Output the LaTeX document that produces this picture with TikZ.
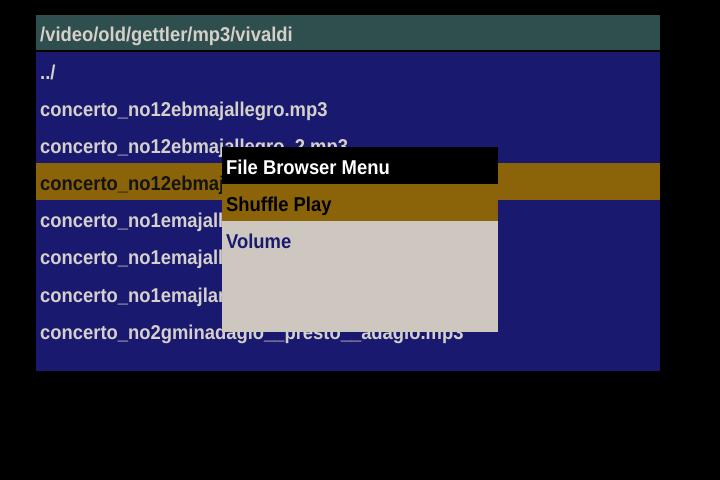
\documentclass[tikz,border=0pt]{standalone}
\usepackage{fontspec}
\newfontfamily\uifont[FakeStretch=0.92]{Liberation Sans Bold}
\definecolor{bgblack}{RGB}{0,0,0}
\definecolor{hdrgreen}{RGB}{47,79,79}
\definecolor{listblue}{RGB}{25,25,112}
\definecolor{selbrown}{RGB}{139,99,8}
\definecolor{popgray}{RGB}{205,199,192}
\definecolor{txtgray}{RGB}{214,208,202}
\definecolor{seltxt}{RGB}{20,20,20}
\tikzset{
  x=1bp, y=-1bp,
  uitext/.style={anchor=base west, inner sep=0pt, font=\uifont\fontsize{20bp}{24bp}\selectfont},
  listtext/.style={uitext, text=txtgray},
}
\begin{document}
\begin{tikzpicture}
\useasboundingbox (0,0) rectangle (720,480);
\fill[bgblack] (0,0) rectangle (720,480);
% header
\fill[hdrgreen] (36,15) rectangle (660,50);
\node[listtext] (hdr) at (40,41.5) {/video/old/gettler/mp3/vivaldi};
% list panel
\fill[listblue] (36,52) rectangle (660,371);
\fill[selbrown] (36,163) rectangle (660,200);
\node[listtext] (r0) at (40,80)  {../};
\node[listtext] (r1) at (40,117) {concerto\_no12ebmajallegro.mp3};
\node[listtext] (r2) at (40,154) {concerto\_no12ebmajallegro\_2.mp3};
\begin{scope}
\clip (36,160) rectangle (222,320);
\node[uitext, text=seltxt] (r3) at (40,191) {concerto\_no12ebmaj};
\node[listtext] (r4) at (40,228) {concerto\_no1emajall};
\node[listtext] (r5) at (40,265) {concerto\_no1emajall};
\node[listtext] (r6) at (40,302) {concerto\_no1emajlar};
\end{scope}
\node[listtext] (r7) at (40,339) {concerto\_no2gminadagio\_\_presto\_\_adagio.mp3};
% popup menu
\fill[popgray] (222,147) rectangle (498,332);
\fill[black] (222,147) rectangle (498,184);
\fill[selbrown] (222,184) rectangle (498,221);
\node[uitext, text=white] (mtitle) at (226,174.5) {File Browser Menu};
\node[uitext, text=black] (mshuffle) at (226,211.5) {Shuffle Play};
\node[uitext, text=listblue] (mvolume) at (226,248.5) {Volume};
\end{tikzpicture}
\end{document}
